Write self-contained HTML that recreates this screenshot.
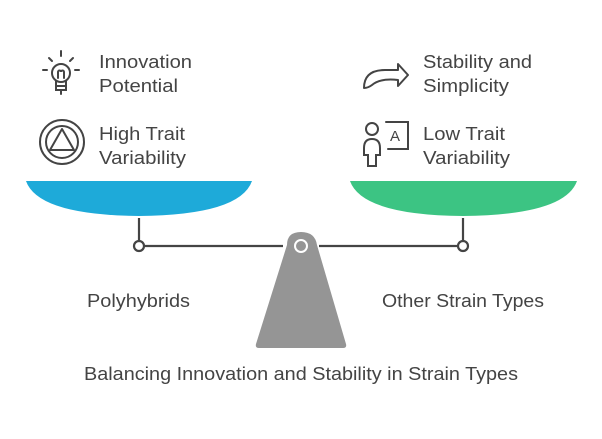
<!DOCTYPE html>
<html><head><style>
body{margin:0;background:#fff;}
svg text{font-family:"Liberation Sans",sans-serif;fill:#444;font-size:18px;}
</style></head><body>
<svg width="602" height="434" viewBox="0 0 602 434" xmlns="http://www.w3.org/2000/svg">
<path d="M26 181 H252 Q240 215 139 216 Q38 215 26 181 Z" fill="#1eaad9"/>
<path d="M350 181 H577 Q565 215 463 216 Q362 215 350 181 Z" fill="#3cc483"/>
<g stroke="#444" stroke-width="2.2" fill="none">
<line x1="139" y1="218" x2="139" y2="241"/>
<line x1="463" y1="218" x2="463" y2="241"/>
<line x1="144" y1="246" x2="283" y2="246"/>
<line x1="319" y1="246" x2="458" y2="246"/>
<circle cx="139" cy="246" r="5" fill="#fff"/>
<circle cx="463" cy="246" r="5" fill="#fff"/>
</g>
<path d="M287 245 Q287 232 301 232 Q315 232 317 245 L346 344 Q347 348 343 348 L259 348 Q255 348 256 344 Z" fill="#959595"/>
<circle cx="301" cy="246" r="6" fill="none" stroke="#fff" stroke-width="2"/>
<g stroke="#444" stroke-width="2" fill="none" stroke-linecap="round">
<circle cx="61" cy="73" r="9"/>
<path d="M56 81 V90 H66 V81 M56 86 H66 M61 90 V94 M58 78 V72 M64 78 V72 M58 72 a1.5 1.5 0 0 1 3 0 a1.5 1.5 0 0 1 3 0"/>
<path d="M61 51 V56 M47 70 H43 M75 70 H79 M49 58 L52 61 M73 58 L70 61"/>
<circle cx="62" cy="142" r="22"/>
<circle cx="62" cy="142" r="16"/>
<path d="M62 129 L74 150 H50 Z" stroke-linejoin="round"/>
<path d="M364 88 Q364 70 385 70 H398 V64 L408 75 L398 86 V80 Q380 78 372 85 Q368 88 364 88 Z" stroke-linejoin="round"/>
<circle cx="372" cy="129" r="6"/>
<path d="M372 139 Q364 139 364 148 V155 H368 V166 H376 V155 H380 V148 Q380 139 372 139 Z"/>
<path d="M386 122 H408 V149 H388"/>
</g>
<text x="390" y="141" style="font-size:15px">A</text>
<g lengthAdjust="spacingAndGlyphs">
<text x="99" y="68" textLength="93" lengthAdjust="spacingAndGlyphs">Innovation</text>
<text x="99" y="92" textLength="79" lengthAdjust="spacingAndGlyphs">Potential</text>
<text x="99" y="140" textLength="86" lengthAdjust="spacingAndGlyphs">High Trait</text>
<text x="99" y="164" textLength="87" lengthAdjust="spacingAndGlyphs">Variability</text>
<text x="423" y="68" textLength="109" lengthAdjust="spacingAndGlyphs">Stability and</text>
<text x="423" y="92" textLength="86" lengthAdjust="spacingAndGlyphs">Simplicity</text>
<text x="423" y="140" textLength="82" lengthAdjust="spacingAndGlyphs">Low Trait</text>
<text x="423" y="164" textLength="87" lengthAdjust="spacingAndGlyphs">Variability</text>
<text x="87" y="307" textLength="103" lengthAdjust="spacingAndGlyphs">Polyhybrids</text>
<text x="382" y="307" textLength="162" lengthAdjust="spacingAndGlyphs">Other Strain Types</text>
<text x="84" y="380" textLength="434" lengthAdjust="spacingAndGlyphs">Balancing Innovation and Stability in Strain Types</text>
</g>
</svg>
</body></html>
